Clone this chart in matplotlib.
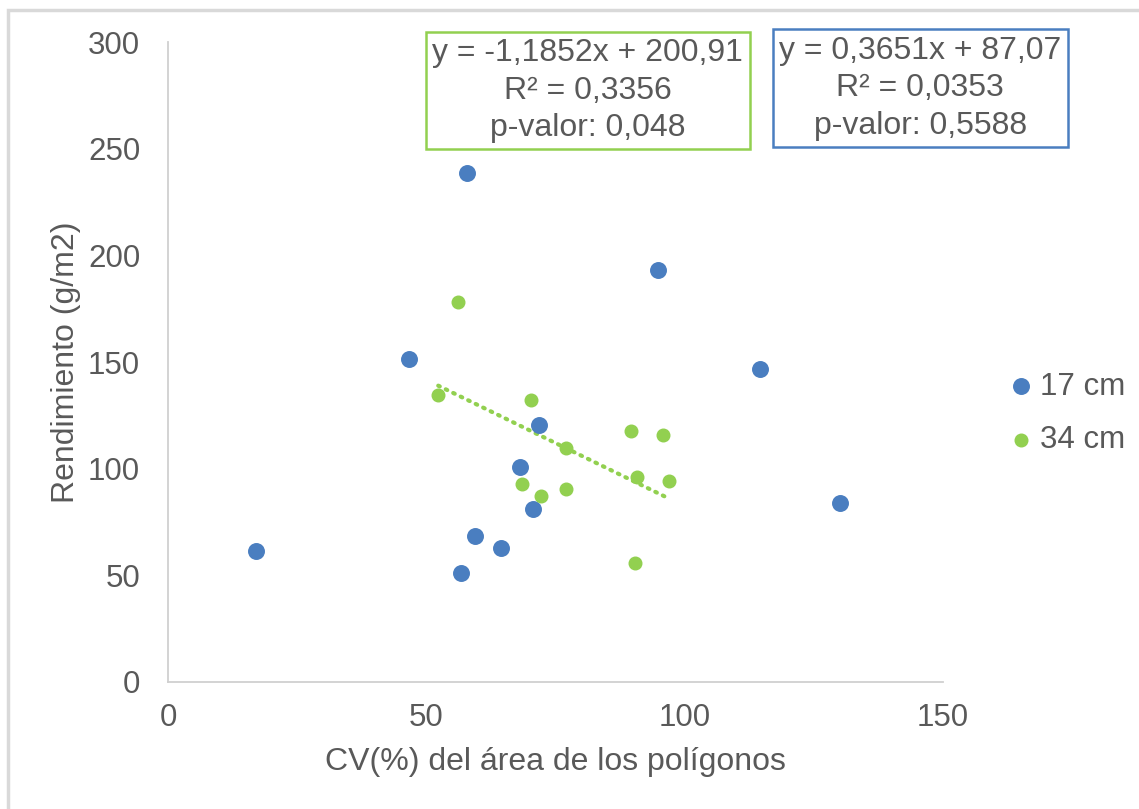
import numpy as np
import matplotlib.pyplot as plt
from matplotlib.patches import Rectangle

plt.rcParams['font.family'] = ['Liberation Sans', 'DejaVu Sans']

# CV(%) del área vs rendimiento, por distancia entre surcos
cv_17 = [17.0, 57.9, 46.6, 94.8, 71.8, 114.6, 68.1, 130.1, 59.4, 64.4, 70.6, 56.7]
rend_17 = [61.6, 238.8, 151.4, 193.2, 120.4, 146.7, 100.6, 83.7, 68.6, 63.0, 80.9, 51.2]

cv_34 = [56.1, 52.3, 70.3, 77.0, 89.6, 95.8, 68.5, 72.2, 77.0, 90.8, 97.0, 90.4]
rend_34 = [178.2, 134.5, 132.1, 109.5, 117.5, 115.7, 92.6, 87.4, 90.7, 95.9, 94.0, 55.9]

# ajuste lineal reportado
slope_34, icpt_34 = -1.1852, 200.91
eq_34 = "y = -1,1852x + 200,91\nR² = 0,3356\np-valor: 0,048"
eq_17 = "y = 0,3651x + 87,07\nR² = 0,0353\np-valor: 0,5588"

azul = '#4A7EC0'
verde = '#92D050'
gris = '#595959'

fig = plt.figure(figsize=(11.39, 8.09), dpi=100)
ax = fig.add_axes([0.1475, 0.157, 0.6805, 0.791])

ax.scatter(cv_17, rend_17, s=125, color=azul, label='17 cm', zorder=3)
ax.scatter(cv_34, rend_34, s=82, color=verde, label='34 cm', zorder=3)

xt = np.array([min(cv_34), max(cv_34)])
ax.plot(xt, slope_34 * xt + icpt_34, color=verde, lw=3, ls=(0, (0.4, 1.6)),
        dash_capstyle='round', zorder=2)

ax.set_xlim(0, 150)
ax.set_ylim(0, 300)
ax.set_xticks([0, 50, 100, 150])
ax.set_yticks(range(0, 301, 50))
ax.tick_params(length=0, labelsize=22.5, labelcolor=gris)
ax.tick_params(axis='y', pad=20)
ax.tick_params(axis='x', pad=15)
for s in ['top', 'right']:
    ax.spines[s].set_visible(False)
for s in ['left', 'bottom']:
    ax.spines[s].set_color('#D0D0D0')
    ax.spines[s].set_linewidth(1.3)

ax.set_xlabel('CV(%) del área de los polígonos', fontsize=23, color=gris, labelpad=10)
ax.set_ylabel('Rendimiento (g/m2)', fontsize=23, color=gris, labelpad=5)

box_kw = dict(ha='center', va='center', fontsize=23, color=gris, linespacing=1.32,
              transform=fig.transFigure)
fig.text(0.516, 0.888, eq_34,
         bbox=dict(boxstyle='square,pad=0.2', fc='white', ec=verde, lw=1.8), **box_kw)
fig.text(0.808, 0.891, eq_17,
         bbox=dict(boxstyle='square,pad=0.2', fc='white', ec=azul, lw=1.8), **box_kw)

ax.legend(loc='center left', bbox_to_anchor=(1.081, 0.42), frameon=False,
          fontsize=22.5, labelcolor=gris, handlelength=1.0, handletextpad=0.08,
          borderaxespad=0, borderpad=0, labelspacing=0.75, scatterpoints=1)

fig.patches.append(Rectangle((0.007, -0.01), 1.0, 0.998, transform=fig.transFigure,
                             fill=False, ec='#D9D9D9', lw=2.5))

fig.savefig('out.png', dpi=100)
